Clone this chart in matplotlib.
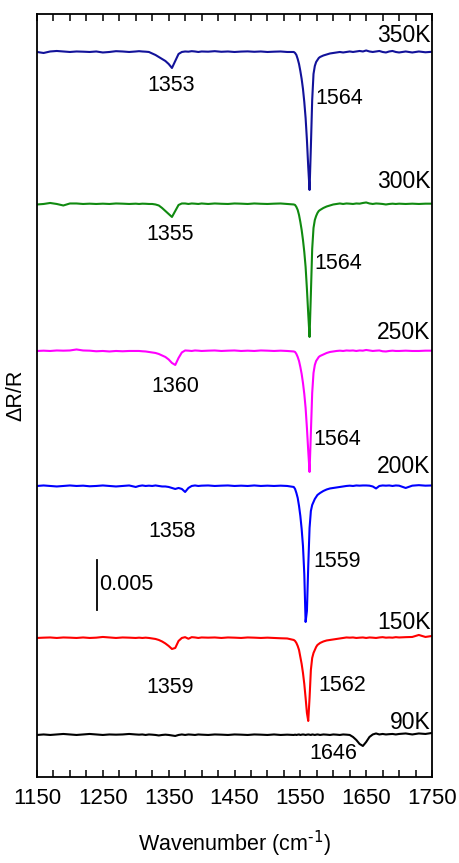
#!/usr/bin/env python3
# -*- coding: utf-8 -*-

import matplotlib
matplotlib.use('Agg')

import numpy as np
import matplotlib.pyplot as plt
from matplotlib import font_manager
from matplotlib.ticker import MultipleLocator

# wavenumber grid (cm-1), denser around the strong band
wn = [1150, 1160, 1170, 1180, 1190, 1200, 1210, 1220, 1230, 1240, 1250, 1260, 1270, 1280, 1290, 1300,
      1305, 1310, 1315, 1320, 1325, 1330, 1335, 1340, 1345, 1350, 1355, 1360, 1365, 1370, 1375, 1380, 1385, 1390, 1395, 1400,
      1410, 1420, 1430, 1440, 1450, 1460, 1470, 1480, 1490, 1500, 1510, 1520, 1530, 1540,
      1542, 1544, 1546, 1548, 1550, 1552, 1554, 1556, 1558, 1560, 1562, 1564, 1566, 1568, 1570, 1572, 1574, 1576, 1578, 1580,
      1585, 1590, 1595, 1600,
      1605, 1610, 1615, 1620, 1625, 1630, 1635, 1640, 1645, 1650, 1655, 1660, 1665, 1670, 1675, 1680, 1685, 1690, 1695, 1700,
      1710, 1720, 1730, 1740, 1750]

# dR/R in units of 1e-4, relative to each baseline
dr_350 = [0, -1, 0.5, 1, 0.5, 0, 0.5, 0.3, 0, 0.5, -0.5, 0, 0.8, 0.5, 0, 0.5,
          0.8, 0.5, 0.3, 0, -1.5, -3, -5, -7, -9, -12, -16, -9, -2, 0, 0.5, 0.3, 0.8, 0.5, 0, 0.5,
          0.3, 0.8, 0.2, 0.5, 0, 0.4, 0.6, 0.2, 0.5, 0, 0.3, 0.5, 0, 0,
          -1, -3, -7, -12, -19, -27, -37, -50, -66, -88, -115, -138, -95, -48, -22, -14, -10, -8, -6, -5,
          -3.5, -2.5, -1.5, -1,
          -0.5, 0, -0.5, 0, 0.5, 0, 0.5, 1, 0.5, 1.5, 0.5, 0, 0.5, 1, 0, -0.5, 0.5, 1, 0, -0.5,
          0.5, -0.5, 0.5, -0.3, 0.2]

dr_300 = [-0.5, 0, 1, 0, -1.5, 0.5, 0.5, 0, 0.3, 0, 0.3, 0, 0.5, 0.3, 0, 0.3,
          0, 0.3, 0.2, 0, 0, -0.5, -1.5, -4, -7, -10, -13, -7, -1, 0.5, 0.5, 0, 0.5, 0.3, 0, 0.5,
          0, 0.5, 0.2, 0, 0.5, 0.3, 0, 0.5, 0.2, 0, 0.3, 0.5, 0, -0.5,
          -1, -3, -6, -11, -18, -26, -36, -48, -63, -85, -110, -133, -90, -45, -24, -16, -12, -9, -7, -6,
          -4, -2.5, -1.5, -0.5,
          0, 0.5, 0, 0.5, 0.3, 0, 0.5, 0.3, 1, 1.5, 0.5, 0, 0.5, 0.3, 0, -0.5, 0, 0.3, 0, 0.3,
          0, 0.3, 0, 0.3, 0.3]

dr_250 = [0, 0.3, 0, 0.5, 0.3, 0.5, 1.5, 0.5, 0.3, -0.3, 0, -0.5, 0, -0.3, 0, 0,
          0, -0.3, -0.5, -1, -1.5, -2, -3, -4.5, -6, -8.5, -12, -14, -7, -1.5, 0.5, 0.3, 0, 0.5, 0.3, 0,
          0.3, 0.5, 0, 0.3, 0.5, 0, 0.3, 0, 0.5, 0.3, 0, 0.3, 0, -0.5,
          -1, -3, -6, -10, -16, -23, -32, -43, -57, -77, -100, -121, -82, -42, -22, -14, -10, -8, -6, -5,
          -3.5, -2, -1, -0.5,
          0, 0.3, 0, 0.5, 0.3, 0.5, 0, 0.5, 0.3, 1, 0.5, 0, 0.3, 0.5, -0.3, -0.5, 0, 0.3, 0, 0,
          0.3, 0, 0, 0.3, 0.3]

dr_200 = [0, 0.5, 0, -0.5, 0, 0.5, 0, 0.3, -0.3, 0, 0.5, 0, -0.5, 0, 0.5, -1,
          0, 0.5, 0, 0.3, 0, 0.5, 0, -0.5, -0.5, -1, -2, -3, -2, -3, -6, -2, 0, 0.5, 0, 0.3,
          0.5, 0, 0.3, 0.5, 0, 0.3, 0, 0.5, 0, 0.3, 0, 0.3, 0, -1,
          -3, -7, -12, -20, -30, -43, -60, -88, -136, -125, -80, -42, -25, -19, -16, -13, -11, -9, -8, -7,
          -5, -3.5, -2.5, -2,
          -1.5, -1, -0.5, 0, 0.3, 0, 0.5, 0.3, 0.5, 0.5, 0.3, -0.5, -2.5, 0, 0.5, 0.3, 0.5, 0, 0.5, 0.3,
          -2, 0.3, 0.8, 0.3, 0.5]

dr_150 = [0, 0.3, 0.5, 0, 0.5, 0.3, 0, 0.5, 0, 0.3, 1, 0.5, 0, 0.5, 0.3, 0,
          0.3, 0, 0.3, 0, -0.5, -1, -2, -3.5, -5.5, -8, -11, -10, -3, 0, 0.8, -0.8, 0.8, 0.5, 0, 0.5,
          0.3, 0.5, 0, 0.5, 0.3, 0, 0.5, 0.3, 0, 0.3, 0, -0.3, -0.5, -2,
          -3, -5, -8, -12, -19, -26, -35, -46, -60, -75, -83, -60, -32, -20, -15, -12, -9, -7, -6, -5,
          -3.5, -2.5, -2, -1.5,
          -1, -0.5, 0, 0.5, 0.3, 0.5, 0, 0.3, 0.5, 0, 0.5, 0.3, 0, 0.5, 0.8, 0.3, 0.5, 0.3, 0.8, 0.5,
          0.8, 1, 3, 1, 2]

dr_90 = [0, 0.5, 0, 0.5, 1, 0.5, 0, 0.5, 1, 0.5, 0, 0.5, 0.3, 0.5, 1, 0.5,
         0.3, 0.5, 0, 0.5, 0.3, 0, -0.5, 0, 0.3, 0, -0.5, -1, 0, 0.5, 0, 0.5, 0.3, 0, 0.5, 0.3,
         0, 0.5, 0.3, 0, 0.5, 0.3, 0, 0.5, 0.3, 0, 0.5, 0, 0.3, 0,
         0.3, 0, 0.3, 0.5, 0, 0.3, 0.5, 0.3, 0, 0.3, 0.5, 0.3, 0, 0.5, 0.3, 0, 0.3, 0.5, 0.3, 0,
         0.5, 0.3, 0, 0.5,
         0.3, 0, 0.5, 0.3, 0, -2, -5, -9, -11, -7, -2, 0.5, 1.5, 0.5, 1, 0.5, 0.8, 1, 0.5, 1,
         1.5, 0.5, 1.5, 1, 2]

temps = ['350K', '300K', '250K', '200K', '150K', '90K']
colors = ['#12129a', '#108a10', '#ff00ff', '#0000ff', '#ff0000', '#000000']
offsets = [0.0725, 0.0573, 0.0426, 0.0291, 0.0139, 0.0042]
spectra = [dr_350, dr_300, dr_250, dr_200, dr_150, dr_90]

# temperature label heights
temp_y = [0.0741, 0.0595, 0.0444, 0.0310, 0.0154, 0.0054]

# peak annotations: (wavenumber position, y position, text)
peak_labels = [(1354, 0.0691, '1353'), (1609, 0.0678, '1564'),
               (1352, 0.0542, '1355'), (1607, 0.0513, '1564'),
               (1360, 0.0390, '1360'), (1606, 0.0337, '1564'),
               (1355, 0.0245, '1358'), (1606, 0.0215, '1559'),
               (1352, 0.0089, '1359'), (1613, 0.0091, '1562'),
               (1600, 0.0023, '1646')]

# the original uses a tall, narrow Arial-like face
try:
    font_manager.findfont(font_manager.FontProperties(family='Liberation Sans Narrow'),
                          fallback_to_default=False)
    plt.rcParams['font.family'] = ['Liberation Sans Narrow', 'Liberation Sans', 'DejaVu Sans']
    fs_small, fs_temp, fs_tick, fs_lab = 18, 19, 18.5, 17.5
except ValueError:
    plt.rcParams['font.family'] = ['Liberation Sans', 'DejaVu Sans']
    fs_small, fs_temp, fs_tick, fs_lab = 15.5, 16.5, 16, 15.5

fig = plt.figure(figsize=(4.59, 8.63), dpi=100)
ax = fig.add_axes([0.0806, 0.0997, 0.8606, 0.8841])

x = np.array(wn)
for dr, off, col in zip(spectra, offsets, colors):
    ax.plot(x, off + np.array(dr) * 1e-4, color=col, linewidth=1.5)

for t, ty in zip(temps, temp_y):
    ax.text(1748, ty, t, ha='right', va='center', fontsize=fs_temp)

for px, py, s in peak_labels:
    ax.text(px, py, s, ha='center', va='center', fontsize=fs_small)

# scale bar of 0.005
ax.plot([1241, 1241], [0.0167, 0.0217], color='black', linewidth=1.3)
ax.text(1245, 0.0192, '0.005', ha='left', va='center', fontsize=fs_small)

ax.set_xlim(1150, 1750)
ax.set_ylim(0, 0.0763)
ax.xaxis.set_minor_locator(MultipleLocator(25))
ax.set_xticks([1150, 1250, 1350, 1450, 1550, 1650, 1750])
ax.tick_params(axis='x', which='both', direction='in', top=True, bottom=True, labelsize=fs_tick, pad=8)
ax.tick_params(axis='x', which='both', length=5, width=1.1)
ax.tick_params(axis='y', left=False, right=False, labelleft=False)
for s in ax.spines.values():
    s.set_linewidth(1.3)

ax.set_xlabel(r'Wavenumber (cm$^{\text{-1}}$)', fontsize=fs_lab, labelpad=14)
ax.set_ylabel('ΔR/R', fontsize=fs_lab, labelpad=8)

fig.savefig('out.png', dpi=100, facecolor='white')
